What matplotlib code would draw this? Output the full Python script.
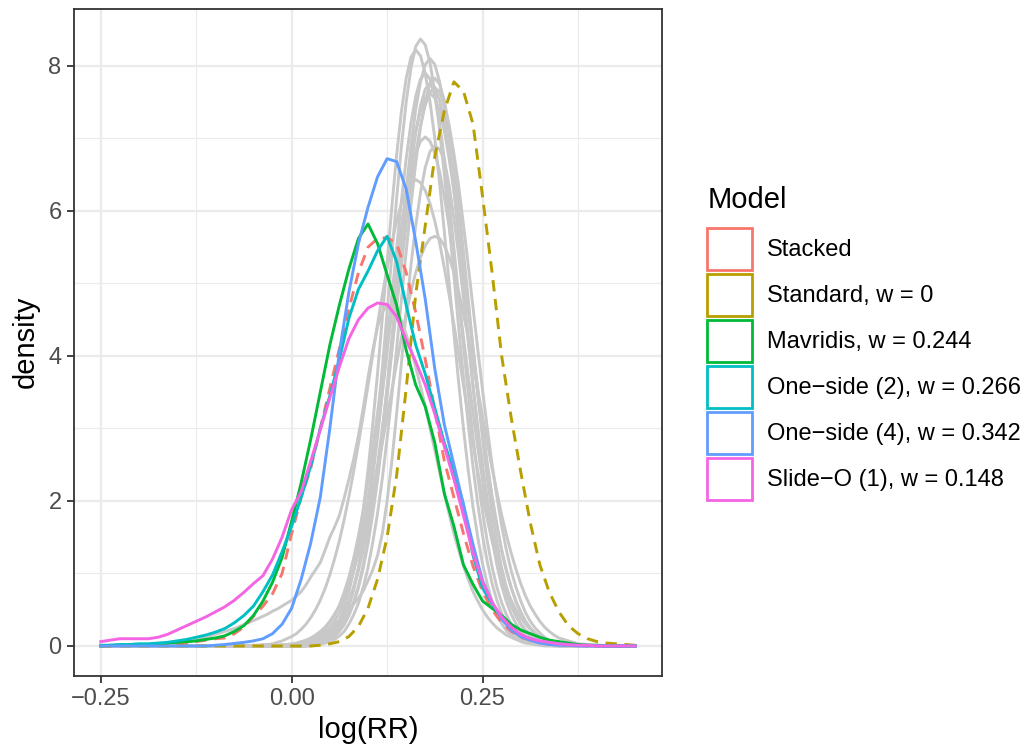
import numpy as np
import matplotlib
matplotlib.use("Agg")
import matplotlib.pyplot as plt
from matplotlib.patches import Rectangle

# coloured model densities, read every 0.0125 on log(RR)
log_rr = np.linspace(-0.25, 0.45, 57)

stacked = [0.00, 0.00, 0.01, 0.01, 0.01, 0.01, 0.02, 0.02, 0.02, 0.04,
           0.06, 0.08, 0.10, 0.11, 0.17, 0.26, 0.41, 0.55, 0.72, 1.00,
           1.55, 2.05, 2.45, 3.00, 3.55, 4.10, 4.65, 5.15, 5.50, 5.62,
           5.63, 5.55, 5.15, 4.60, 3.95, 3.25, 2.55, 2.05, 1.55, 1.10,
           0.75, 0.50, 0.32, 0.20, 0.12, 0.08, 0.05, 0.03, 0.02, 0.01,
           0.01, 0.00, 0.00, 0.00, 0.00, 0.00, 0.00]
standard = [0.00, 0.00, 0.00, 0.00, 0.00, 0.00, 0.00, 0.00, 0.00, 0.00,
            0.00, 0.00, 0.00, 0.00, 0.00, 0.00, 0.00, 0.00, 0.00, 0.00,
            0.00, 0.00, 0.00, 0.01, 0.03, 0.06, 0.13, 0.27, 0.52, 0.92,
            1.50, 2.35, 3.55, 4.85, 5.80, 6.75, 7.38, 7.78, 7.65, 7.20,
            6.20, 5.15, 4.00, 3.15, 2.40, 1.70, 1.12, 0.74, 0.47, 0.28,
            0.17, 0.10, 0.06, 0.04, 0.03, 0.02, 0.01]
mavridis = [0.00, 0.01, 0.01, 0.02, 0.02, 0.02, 0.03, 0.04, 0.05, 0.06,
            0.07, 0.09, 0.11, 0.14, 0.20, 0.28, 0.42, 0.62, 0.88, 1.22,
            1.72, 2.25, 2.85, 3.50, 4.15, 4.70, 5.20, 5.62, 5.82, 5.55,
            5.12, 4.70, 4.08, 3.60, 3.30, 2.80, 2.10, 1.65, 1.12, 0.85,
            0.62, 0.52, 0.42, 0.30, 0.22, 0.17, 0.12, 0.08, 0.06, 0.04,
            0.02, 0.01, 0.01, 0.00, 0.00, 0.00, 0.00]
one_side_2 = [0.01, 0.01, 0.02, 0.02, 0.03, 0.03, 0.04, 0.05, 0.07, 0.09,
              0.12, 0.15, 0.19, 0.24, 0.32, 0.42, 0.55, 0.75, 0.98, 1.30,
              1.65, 2.05, 2.48, 3.00, 3.45, 3.95, 4.52, 4.92, 5.17, 5.45,
              5.65, 5.30, 4.70, 4.15, 3.75, 3.28, 2.80, 2.40, 1.95, 1.25,
              0.80, 0.58, 0.40, 0.25, 0.15, 0.10, 0.06, 0.04, 0.03, 0.02,
              0.01, 0.01, 0.00, 0.00, 0.00, 0.00, 0.00]
one_side_4 = [0.00, 0.00, 0.00, 0.00, 0.00, 0.00, 0.00, 0.00, 0.00, 0.00,
              0.00, 0.00, 0.01, 0.02, 0.035, 0.05, 0.07, 0.10, 0.17, 0.30,
              0.52, 0.92, 1.42, 2.05, 3.00, 4.05, 4.88, 5.55, 6.05, 6.47,
              6.72, 6.68, 6.30, 5.58, 4.78, 3.82, 3.05, 2.50, 1.95, 1.40,
              0.90, 0.60, 0.37, 0.22, 0.13, 0.08, 0.04, 0.02, 0.01, 0.01,
              0.00, 0.00, 0.00, 0.00, 0.00, 0.00, 0.00]
slide_o_1 = [0.06, 0.08, 0.10, 0.10, 0.10, 0.10, 0.12, 0.16, 0.22, 0.28,
             0.34, 0.40, 0.47, 0.54, 0.63, 0.74, 0.86, 0.97, 1.20, 1.50,
             1.88, 2.13, 2.55, 2.98, 3.42, 3.85, 4.24, 4.50, 4.66, 4.73,
             4.71, 4.54, 4.22, 3.92, 3.60, 3.20, 2.75, 2.30, 1.80, 1.28,
             0.88, 0.60, 0.40, 0.26, 0.16, 0.10, 0.07, 0.05, 0.03, 0.02,
             0.01, 0.01, 0.00, 0.00, 0.00, 0.00, 0.00]

# grey densities of the other candidates: coarse tails, fine steps (0.00625)
# between -0.05 and 0.35 where the peaks are narrow
log_rr_fine = np.concatenate([np.linspace(-0.25, -0.075, 8),
                              np.linspace(-0.05, 0.35, 65),
                              np.linspace(0.375, 0.45, 4)])

gray_1 = [0, 0, 0, 0, 0, 0, 0, 0,
          0, 0, 0, 0, 0, 0, 0, 0,
          0, 0, 0, 0, 0.01, 0.02, 0.04, 0.06,
          0.10, 0.16, 0.24, 0.37, 0.54, 0.77, 1.06, 1.44,
          1.91, 2.47, 3.11, 3.83, 4.60, 5.39, 6.17, 6.89,
          7.50, 7.97, 8.27, 8.37, 8.29, 8.04, 7.64, 7.12,
          6.50, 5.82, 5.11, 4.39, 3.70, 3.06, 2.47, 1.96,
          1.52, 1.16, 0.86, 0.63, 0.45, 0.32, 0.22, 0.15,
          0.10, 0.07, 0.05, 0.03, 0.02, 0.02, 0.01, 0.01,
          0,
          0, 0, 0, 0]
gray_2 = [0, 0, 0, 0, 0, 0, 0, 0,
          0, 0, 0, 0, 0, 0, 0, 0,
          0, 0, 0, 0.01, 0.02, 0.04, 0.06, 0.10,
          0.16, 0.24, 0.36, 0.53, 0.75, 1.04, 1.41, 1.87,
          2.42, 3.06, 3.76, 4.52, 5.29, 6.06, 6.77, 7.37,
          7.83, 8.12, 8.22, 8.14, 7.89, 7.50, 7.00, 6.39,
          5.71, 5.01, 4.31, 3.63, 3.00, 2.42, 1.92, 1.50,
          1.13, 0.85, 0.62, 0.45, 0.31, 0.21, 0.15, 0.10,
          0.06, 0.04, 0.03, 0.02, 0.01, 0, 0, 0,
          0,
          0, 0, 0, 0]
gray_3 = [0, 0, 0, 0, 0, 0, 0, 0,
          0, 0, 0, 0, 0, 0, 0, 0,
          0, 0, 0, 0, 0.01, 0.02, 0.04, 0.06,
          0.09, 0.14, 0.21, 0.31, 0.44, 0.61, 0.83, 1.12,
          1.47, 1.90, 2.39, 2.96, 3.58, 4.24, 4.94, 5.63,
          6.29, 6.89, 7.40, 7.78, 8.02, 8.10, 8.02, 7.78,
          7.40, 6.89, 6.29, 5.63, 4.94, 4.24, 3.58, 2.96,
          2.39, 1.90, 1.47, 1.12, 0.83, 0.61, 0.44, 0.31,
          0.21, 0.14, 0.09, 0.06, 0.04, 0.02, 0.01, 0.01,
          0,
          0, 0, 0, 0]
gray_4 = [0, 0, 0, 0, 0, 0, 0, 0,
          0, 0, 0, 0, 0, 0, 0, 0,
          0, 0, 0, 0, 0, 0.01, 0.02, 0.04,
          0.06, 0.09, 0.14, 0.20, 0.30, 0.43, 0.59, 0.81,
          1.08, 1.43, 1.83, 2.31, 2.86, 3.46, 4.10, 4.78,
          5.44, 6.08, 6.66, 7.15, 7.52, 7.75, 7.83, 7.75,
          7.52, 7.15, 6.66, 6.08, 5.44, 4.78, 4.10, 3.46,
          2.86, 2.31, 1.83, 1.43, 1.08, 0.81, 0.59, 0.43,
          0.30, 0.20, 0.14, 0.09, 0.06, 0.04, 0.02, 0.01,
          0.01,
          0, 0, 0, 0]
gray_5 = [0, 0, 0, 0, 0, 0, 0, 0,
          0, 0, 0, 0, 0, 0, 0, 0,
          0, 0, 0, 0, 0.01, 0.02, 0.04, 0.06,
          0.09, 0.14, 0.20, 0.29, 0.42, 0.59, 0.80, 1.07,
          1.41, 1.82, 2.29, 2.83, 3.43, 4.07, 4.73, 5.39,
          6.03, 6.60, 7.08, 7.45, 7.68, 7.76, 7.70, 7.52,
          7.23, 6.84, 6.39, 5.86, 5.29, 4.71, 4.12, 3.55,
          3.02, 2.52, 2.07, 1.68, 1.33, 1.05, 0.81, 0.62,
          0.47, 0.34, 0.25, 0.18, 0.12, 0.09, 0.06, 0.04,
          0.03,
          0.01, 0, 0, 0]
gray_6 = [0, 0, 0, 0, 0, 0, 0, 0,
          0, 0, 0, 0, 0, 0, 0, 0,
          0.01, 0.01, 0.02, 0.03, 0.04, 0.06, 0.08, 0.12,
          0.18, 0.25, 0.34, 0.46, 0.62, 0.81, 1.04, 1.32,
          1.66, 2.06, 2.50, 3.00, 3.53, 4.09, 4.67, 5.25,
          5.81, 6.34, 6.79, 7.18, 7.46, 7.64, 7.70, 7.64,
          7.46, 7.18, 6.79, 6.34, 5.81, 5.25, 4.67, 4.09,
          3.53, 3.00, 2.50, 2.06, 1.66, 1.32, 1.04, 0.81,
          0.62, 0.46, 0.34, 0.25, 0.18, 0.12, 0.08, 0.06,
          0.04,
          0.01, 0, 0, 0]
gray_7 = [0, 0, 0, 0, 0, 0, 0, 0,
          0, 0, 0, 0, 0, 0, 0, 0.01,
          0.01, 0.02, 0.03, 0.04, 0.06, 0.08, 0.12, 0.18,
          0.24, 0.34, 0.46, 0.61, 0.80, 1.03, 1.31, 1.65,
          2.03, 2.48, 2.96, 3.49, 4.05, 4.63, 5.20, 5.75,
          6.27, 6.72, 7.10, 7.38, 7.56, 7.62, 7.56, 7.38,
          7.10, 6.72, 6.27, 5.75, 5.20, 4.63, 4.05, 3.49,
          2.96, 2.48, 2.03, 1.65, 1.31, 1.03, 0.80, 0.61,
          0.46, 0.34, 0.24, 0.18, 0.12, 0.08, 0.06, 0.04,
          0.03,
          0.01, 0, 0, 0]
gray_8 = [0, 0, 0, 0, 0, 0, 0, 0,
          0, 0, 0, 0, 0, 0, 0.01, 0.01,
          0.02, 0.03, 0.04, 0.05, 0.08, 0.11, 0.16, 0.22,
          0.31, 0.42, 0.56, 0.74, 0.95, 1.21, 1.52, 1.87,
          2.28, 2.73, 3.22, 3.73, 4.26, 4.79, 5.30, 5.78,
          6.19, 6.54, 6.80, 6.96, 7.02, 6.96, 6.80, 6.54,
          6.19, 5.78, 5.30, 4.79, 4.26, 3.73, 3.22, 2.73,
          2.28, 1.87, 1.52, 1.21, 0.95, 0.74, 0.56, 0.42,
          0.31, 0.22, 0.16, 0.11, 0.08, 0.05, 0.04, 0.03,
          0.02,
          0.01, 0, 0, 0]
gray_9 = [0, 0, 0, 0, 0, 0, 0, 0,
          0.01, 0.01, 0.02, 0.02, 0.03, 0.05, 0.07, 0.10,
          0.13, 0.17, 0.23, 0.30, 0.39, 0.50, 0.63, 0.79,
          0.98, 1.20, 1.45, 1.74, 2.06, 2.41, 2.79, 3.18,
          3.59, 4.02, 4.44, 4.84, 5.21, 5.56, 5.86, 6.10,
          6.28, 6.39, 6.43, 6.39, 6.28, 6.10, 5.86, 5.56,
          5.21, 4.84, 4.44, 4.02, 3.59, 3.18, 2.79, 2.41,
          2.06, 1.74, 1.45, 1.20, 0.98, 0.79, 0.63, 0.50,
          0.39, 0.30, 0.23, 0.17, 0.13, 0.10, 0.07, 0.05,
          0.03,
          0.01, 0, 0, 0]
gray_10 = [0, 0, 0, 0, 0, 0, 0, 0,
           0, 0, 0, 0, 0.01, 0.01, 0.02, 0.02,
           0.03, 0.04, 0.06, 0.08, 0.11, 0.15, 0.20, 0.26,
           0.34, 0.44, 0.55, 0.69, 0.86, 1.06, 1.28, 1.53,
           1.81, 2.12, 2.45, 2.80, 3.16, 3.53, 3.90, 4.25,
           4.58, 4.89, 5.15, 5.36, 5.52, 5.62, 5.65, 5.62,
           5.52, 5.36, 5.15, 4.89, 4.58, 4.25, 3.90, 3.53,
           3.16, 2.80, 2.45, 2.12, 1.81, 1.53, 1.28, 1.06,
           0.86, 0.69, 0.55, 0.44, 0.34, 0.26, 0.20, 0.15,
           0.11,
           0.03, 0.01, 0, 0]
gray_11 = [0, 0, 0.01, 0.01, 0.02, 0.08, 0.16, 0.24,
           0.35, 0.38, 0.41, 0.44, 0.48, 0.51, 0.55, 0.59,
           0.63, 0.69, 0.75, 0.84, 0.95, 1.05, 1.15, 1.32,
           1.50, 1.64, 1.80, 2.04, 2.30, 2.58, 2.90, 3.28,
           3.70, 4.08, 4.40, 4.60, 4.70, 4.70, 4.62, 4.48,
           4.30, 4.09, 3.85, 3.58, 3.30, 3.00, 2.70, 2.40,
           2.10, 1.82, 1.55, 1.32, 1.10, 0.92, 0.75, 0.62,
           0.50, 0.40, 0.32, 0.25, 0.20, 0.15, 0.12, 0.09,
           0.07, 0.05, 0.04, 0.03, 0.02, 0.02, 0.01, 0.01,
           0,
           0, 0, 0, 0]
gray_12 = [0, 0, 0, 0, 0, 0, 0, 0,
           0, 0, 0, 0, 0, 0, 0, 0,
           0, 0.01, 0.01, 0.02, 0.03, 0.06, 0.10, 0.15,
           0.22, 0.29, 0.36, 0.43, 0.50, 0.58, 0.66, 0.76,
           0.90, 1.05, 1.25, 1.55, 2.00, 2.55, 3.20, 3.90,
           4.60, 5.25, 5.80, 6.25, 6.60, 6.82, 6.90, 6.85,
           6.70, 6.35, 5.90, 5.38, 4.80, 4.20, 3.60, 3.02,
           2.50, 2.02, 1.60, 1.25, 0.95, 0.72, 0.55, 0.41,
           0.30, 0.22, 0.16, 0.11, 0.08, 0.06, 0.04, 0.03,
           0.02,
           0.01, 0, 0, 0]
gray_13 = [0, 0, 0, 0, 0, 0, 0, 0,
           0, 0, 0, 0, 0, 0, 0, 0,
           0, 0, 0, 0.01, 0.02, 0.04, 0.06, 0.09,
           0.14, 0.21, 0.30, 0.43, 0.60, 0.81, 1.09, 1.44,
           1.85, 2.33, 2.88, 3.49, 4.14, 4.82, 5.49, 6.14,
           6.72, 7.21, 7.58, 7.82, 7.90, 7.82, 7.58, 7.21,
           6.72, 6.14, 5.49, 4.82, 4.14, 3.49, 2.88, 2.33,
           1.85, 1.44, 1.09, 0.81, 0.60, 0.43, 0.30, 0.21,
           0.14, 0.09, 0.06, 0.04, 0.02, 0.01, 0.01, 0,
           0,
           0, 0, 0, 0]

gray_runs = [gray_1, gray_2, gray_3, gray_4, gray_5, gray_6, gray_7,
             gray_8, gray_9, gray_10, gray_11, gray_12, gray_13]

model_values = [stacked, standard, mavridis, one_side_2, one_side_4, slide_o_1]
model_labels = ["Stacked", "Standard, w = 0", "Mavridis, w = 0.244",
                "One\u2212side (2), w = 0.266", "One\u2212side (4), w = 0.342",
                "Slide\u2212O (1), w = 0.148"]
model_colors = ["#F8766D", "#B79F00", "#00BA38", "#00BFC4", "#619CFF", "#F564E3"]
model_dashed = [True, True, False, False, False, False]

plt.rcParams["font.family"] = ["Liberation Sans", "DejaVu Sans"]

fig = plt.figure(figsize=(10.29, 7.5), dpi=100)
ax = fig.add_axes([74 / 1029, 1 - 675.7 / 750, 588 / 1029, 667.1 / 750])

for run in gray_runs:
    ax.plot(log_rr_fine, run, color="#C8C8C8", lw=2.1, solid_joinstyle="round")

for vals, col, dashed in zip(model_values, model_colors, model_dashed):
    line, = ax.plot(log_rr, vals, color=col, lw=2.1, solid_joinstyle="round")
    if dashed:
        line.set_dashes([3.9, 2.6])

ax.set_xlim(-0.285, 0.485)
ax.set_ylim(-0.41, 8.79)
ax.set_xticks([-0.25, 0.0, 0.25])
ax.set_xticklabels(["\u22120.25", "0.00", "0.25"])
ax.set_xticks([-0.125, 0.125, 0.375], minor=True)
ax.set_yticks([0, 2, 4, 6, 8])
ax.set_yticks([1, 3, 5, 7], minor=True)

ax.set_axisbelow(True)
ax.grid(which="major", color="#EBEBEB", lw=1.6)
ax.grid(which="minor", color="#EBEBEB", lw=0.8)
for sp in ax.spines.values():
    sp.set_color("#333333")
    sp.set_linewidth(1.3)
ax.tick_params(which="major", length=5, width=1.3, color="#333333",
               labelcolor="#4D4D4D", labelsize=17, pad=4)
ax.tick_params(which="minor", length=0)

ax.set_xlabel("log(RR)", fontsize=21, labelpad=4)
ax.set_ylabel("density", fontsize=21, labelpad=6)

# legend: title placed separately so the gap to the keys matches
fig.text(708 / 1029, 1 - 208.3 / 750, "Model", fontsize=21, va="baseline")
handles = [Rectangle((0, 0), 1, 1, facecolor="white", edgecolor=c, linewidth=2.0)
           for c in model_colors]
fig.legend(handles, model_labels, loc="upper left",
           bbox_to_anchor=(707 / 1029, 1 - 228 / 750), frameon=False,
           fontsize=17, handlelength=1.9, handleheight=2.36,
           labelspacing=0.17, handletextpad=0.64, borderpad=0, borderaxespad=0)

fig.savefig("out.png", dpi=100)
